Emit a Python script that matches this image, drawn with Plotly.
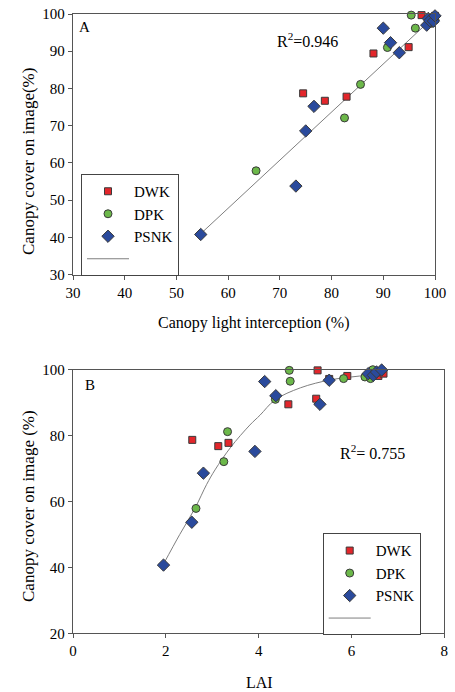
import plotly.graph_objects as go

# ---------- Panel A data: canopy light interception (%) vs canopy cover (%) ----------
a_dwk_x = [74.5, 78.7, 82.9, 88.1, 94.9, 97.4, 99.2, 100.0]
a_dwk_y = [78.7, 76.7, 77.8, 89.4, 91.1, 99.7, 99.0, 99.5]
a_dpk_x = [65.4, 82.5, 85.6, 90.8, 95.4, 96.2, 99.4, 100.0]
a_dpk_y = [57.9, 72.1, 81.1, 91.0, 99.7, 96.2, 97.5, 98.4]
a_psnk_x = [54.7, 73.1, 75.0, 76.6, 90.0, 91.4, 93.1, 98.4, 98.7, 99.0, 99.7, 100.0]
a_psnk_y = [40.8, 53.8, 68.6, 75.2, 96.2, 92.3, 89.6, 97.0, 98.8, 98.2, 98.1, 99.5]
a_fit_x = [54.7, 100.0]
a_fit_y = [41.0, 99.5]

# ---------- Panel B data: LAI vs canopy cover (%) ----------
b_dwk_x = [2.57, 3.13, 3.35, 4.64, 5.24, 5.27, 5.52, 5.91, 6.58, 6.69]
b_dwk_y = [78.7, 76.8, 77.8, 89.5, 91.2, 99.8, 97.2, 98.1, 98.1, 98.8]
b_dpk_x = [2.65, 3.25, 3.33, 4.36, 4.66, 4.68, 5.83, 6.29, 6.41, 6.46]
b_dpk_y = [57.9, 72.1, 81.2, 91.0, 99.8, 96.5, 97.3, 97.8, 97.3, 100.0]
b_psnk_x = [1.95, 2.56, 2.81, 3.92, 4.13, 4.37, 5.32, 5.52, 6.36, 6.47, 6.54, 6.65]
b_psnk_y = [40.7, 53.7, 68.6, 75.2, 96.4, 92.1, 89.5, 96.8, 98.8, 98.3, 99.3, 99.9]
b_fit_x = [1.95, 2.3, 2.63, 2.88, 3.06, 3.4, 3.81, 4.03, 4.35, 4.9, 5.54, 6.0, 6.33, 6.68]
b_fit_y = [41.0, 50.0, 58.0, 65.2, 69.6, 76.5, 83.2, 86.2, 90.8, 94.5, 96.9, 97.8, 98.3, 98.8]

a_xticks = [30, 40, 50, 60, 70, 80, 90, 100]
a_yticks = [30, 40, 50, 60, 70, 80, 90, 100]
b_xticks = [0, 2, 4, 6, 8]
b_yticks = [20, 40, 60, 80, 100]

FONT = "Liberation Serif"
RED, GREEN, BLUE = "#e3262b", "#6cb84a", "#2a4a9c"
EDGE = "#3a3a3a"
AX = "#555555"
W, H = 455, 692

fig = go.Figure()

def pts(x, y, name, sym, col, size, xa, ya, leg, rank):
    fig.add_trace(go.Scatter(
        x=x, y=y, mode="markers", name=name, xaxis=xa, yaxis=ya, legend=leg,
        legendrank=rank, cliponaxis=False,
        marker=dict(symbol=sym, color=col, size=size, line=dict(color=EDGE, width=1))))

def fit(x, y, xa, ya, leg, shape):
    fig.add_trace(go.Scatter(
        x=x, y=y, mode="lines", name=" ", xaxis=xa, yaxis=ya, legend=leg,
        legendrank=4, line=dict(color="#7f7f7f", width=1, shape=shape)))

fit(a_fit_x, a_fit_y, "x", "y", "legend", "linear")
pts(a_dwk_x, a_dwk_y, "DWK", "square", RED, 7, "x", "y", "legend", 1)
pts(a_dpk_x, a_dpk_y, "DPK", "circle", GREEN, 8, "x", "y", "legend", 2)
pts(a_psnk_x, a_psnk_y, "PSNK", "diamond", BLUE, 9.5, "x", "y", "legend", 3)

fit(b_fit_x, b_fit_y, "x2", "y2", "legend2", "spline")
pts(b_dwk_x, b_dwk_y, "DWK", "square", RED, 7, "x2", "y2", "legend2", 1)
pts(b_dpk_x, b_dpk_y, "DPK", "circle", GREEN, 8, "x2", "y2", "legend2", 2)
pts(b_psnk_x, b_psnk_y, "PSNK", "diamond", BLUE, 9.5, "x2", "y2", "legend2", 3)

def ax(rng, ticks, dom, anchor):
    return dict(range=rng, tickvals=ticks, domain=dom, anchor=anchor, automargin=False,
                showline=True, mirror=True, linecolor=AX, linewidth=1.3,
                ticks="outside", ticklen=4, tickcolor=AX, tickwidth=1,
                showgrid=False, zeroline=False,
                tickfont=dict(family=FONT, size=15, color="black"))

legstyle = dict(bgcolor="white", bordercolor="#444444", borderwidth=1,
                font=dict(family=FONT, size=15, color="black"),
                traceorder="normal", xanchor="left", yanchor="top",
                itemclick=False, tracegroupgap=0, itemsizing="trace", itemwidth=42)

fig.update_layout(
    width=W, height=H, margin=dict(l=0, r=0, t=0, b=0, autoexpand=False),
    plot_bgcolor="white", paper_bgcolor="white",
    xaxis=ax([30, 100], a_xticks, [73 / W, 435 / W], "y"),
    yaxis=ax([30, 100], a_yticks, [1 - 274.7 / H, 1 - 14 / H], "x"),
    xaxis2=ax([0, 8], b_xticks, [73 / W, 444.3 / W], "y2"),
    yaxis2=ax([20, 100], b_yticks, [1 - 633.3 / H, 1 - 369.7 / H], "x2"),
    legend=dict(x=81 / W, y=1 - 174 / H, **legstyle),
    legend2=dict(x=322.7 / W, y=1 - 533.3 / H, **legstyle),
    showlegend=True,
)

def note(text, x, y, size=15, angle=0, xanchor="center"):
    fig.add_annotation(text=text, x=x / W, y=1 - y / H, xref="paper", yref="paper",
                       showarrow=False, textangle=angle, xanchor=xanchor, yanchor="middle",
                       font=dict(family=FONT, size=size, color="black"))

note("A", 84, 27, 15)
note("B", 90, 385, 15)
note("R<sup>2</sup>=0.946", 275, 40, 16, xanchor="left")
note("R<sup>2</sup>= 0.755", 338, 452, 16, xanchor="left")
note("Canopy cover on image(%)", 28, 162, 17, angle=-90)
note("Canopy light interception (%)", 254, 323, 16)
note("Canopy cover on image (%)", 28, 506, 17, angle=-90)
note("LAI", 259, 682, 16)

fig.write_html("out.html", config={"displayModeBar": False},
               post_script="document.body.style.margin='0';document.body.style.overflow='hidden';")
